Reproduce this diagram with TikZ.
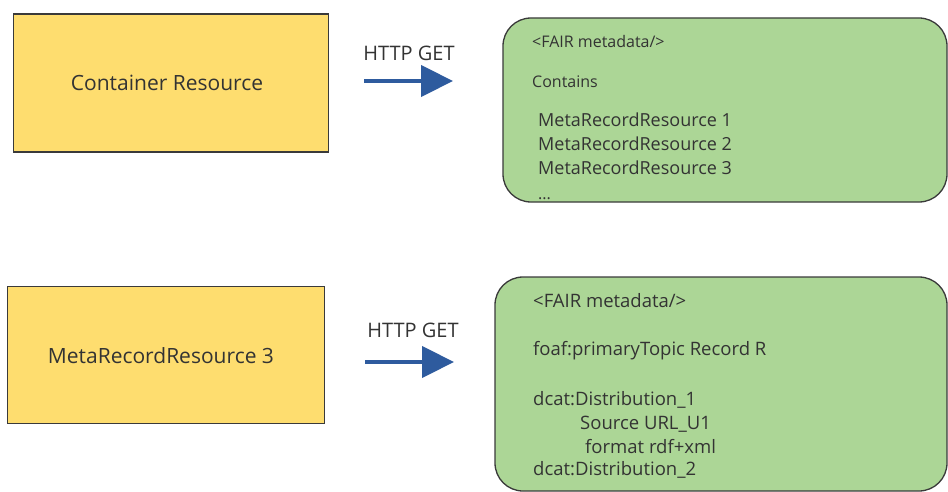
\documentclass[tikz,border=0pt]{standalone}
\usepackage{fontspec}
\setmainfont{Open Sans}
\usepackage{tikz}
\usetikzlibrary{arrows.meta}

\definecolor{resyellow}{RGB}{254,221,111}
\definecolor{metagreen}{RGB}{172,214,150}
\definecolor{getblue}{RGB}{46,91,158}
\definecolor{edgegray}{RGB}{58,58,58}
\definecolor{textgray}{RGB}{51,51,51}

\begin{document}
\begin{tikzpicture}
  [x=1pt,y=-1pt,every node/.style={text=textgray},
   resbox/.style={rectangle,draw=edgegray,line width=1.3pt,fill=resyellow,
     font=\fontsize{21}{25}\selectfont},
   metabox/.style={rectangle,draw=edgegray,line width=1.3pt,fill=metagreen,
     rounded corners=28pt},
   metaline/.style={anchor=base west,inner sep=0pt},
   getlabel/.style={font=\fontsize{20}{24}\selectfont,anchor=base},
   getarrow/.style={draw=getblue,line width=4.5pt,
     -{Triangle[length=32pt,width=31pt]}}]
  \useasboundingbox (0,0) rectangle (948,492);

  % first request
  \node[resbox,minimum width=315pt,minimum height=138pt] (cont) at (171,83) {};
  \node (conttext) at (167,83) {\fontsize{21}{25}\selectfont Container Resource};
  \node[getlabel] (get1) at (409,61) {HTTP GET};
  \coordinate (g1s) at (364,81);
  \coordinate (g1e) at (453,81);
  \draw[getarrow] (g1s) -- (g1e);
  \node[metabox,minimum width=444pt,minimum height=184pt] (list) at (725,110) {};
  \begin{scope}[every node/.append style={font=\fontsize{16}{19}\selectfont}]
    \node[metaline] (l1) at (532,48) {<FAIR metadata/>};
    \node[metaline] (l2) at (532,88) {Contains};
  \end{scope}
  \foreach \i/\y in {1/127,2/151,3/175}
    \node[metaline,font=\fontsize{18}{21}\selectfont] (m\i) at (538,\y) {MetaRecordResource \i};
  \node[metaline,font=\fontsize{16}{19}\selectfont] (more) at (538,199) {...};

  % second request
  \node[resbox,minimum width=317pt,minimum height=137pt] (rec) at (166,355) {};
  \node (rectext) at (161,356) {\fontsize{21}{25}\selectfont MetaRecordResource 3};
  \node[getlabel] (get2) at (413,337) {HTTP GET};
  \coordinate (g2s) at (365,362);
  \coordinate (g2e) at (454,362);
  \draw[getarrow] (g2s) -- (g2e);
  \node[metabox,minimum width=452pt,minimum height=214pt] (record) at (721,384) {};
  \begin{scope}[every node/.append style={font=\fontsize{18.5}{22}\selectfont}]
    \node[metaline] (r1) at (533,307) {<FAIR metadata/>};
    \node[metaline] (r2) at (533,355) {foaf:primaryTopic Record R};
    \node[metaline] (r3) at (533,405) {dcat:Distribution\_1};
    \node[metaline] (r4) at (580,429) {Source URL\_U1};
    \node[metaline] (r5) at (585,453) {format rdf+xml};
    \node[metaline] (r6) at (533,475) {dcat:Distribution\_2};
  \end{scope}

\end{tikzpicture}
\end{document}
